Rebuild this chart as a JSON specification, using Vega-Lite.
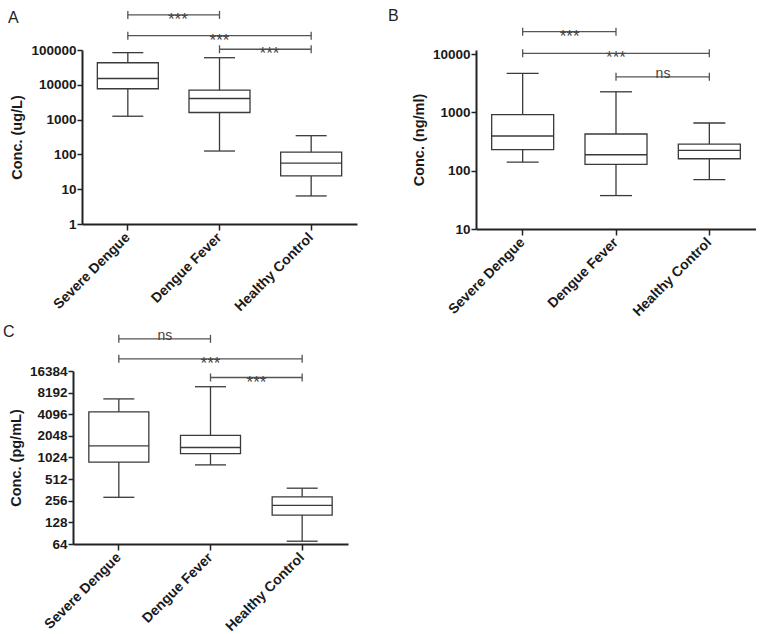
{
  "$schema": "https://vega.github.io/schema/vega-lite/v6.json",
  "background": "white",
  "padding": {"left": 3, "top": 8, "right": 0, "bottom": 0},
  "config": {
    "view": {"stroke": null},
    "font": "Liberation Sans",
    "axis": {"labelFont": "Liberation Sans", "labelFontWeight": "bold", "labelColor": "#1a1a1a", "titleFont": "Liberation Sans", "titleFontWeight": "bold", "titleColor": "#1a1a1a", "domainColor": "#222", "domainWidth": 2, "tickColor": "#222", "tickWidth": 1.5, "grid": false},
    "axisY": {"labelFontSize": 13.5, "titleFontSize": 14.5, "tickSize": 5, "labelPadding": 1, "titlePadding": 6},
    "axisX": {"labelFontSize": 14, "labelAngle": -45, "labelBaseline": "middle", "labelAlign": "right", "tickSize": 6, "labelPadding": 5}
  },
  "datasets": {
    "boxA": [
      {"group": "Severe Dengue", "lower": 1250, "q1": 7700, "median": 15200, "q3": 43000, "upper": 84000},
      {"group": "Dengue Fever", "lower": 125, "q1": 1600, "median": 4050, "q3": 7000, "upper": 60000},
      {"group": "Healthy Control", "lower": 6.4, "q1": 24, "median": 56, "q3": 116, "upper": 345}
    ],
    "boxB": [
      {"group": "Severe Dengue", "lower": 140, "q1": 229, "median": 393, "q3": 916, "upper": 4650},
      {"group": "Dengue Fever", "lower": 37.4, "q1": 128, "median": 188, "q3": 425, "upper": 2250},
      {"group": "Healthy Control", "lower": 70, "q1": 160, "median": 223, "q3": 286, "upper": 657}
    ],
    "boxC": [
      {"group": "Severe Dengue", "lower": 286, "q1": 884, "median": 1485, "q3": 4420, "upper": 6700},
      {"group": "Dengue Fever", "lower": 808, "q1": 1162, "median": 1409, "q3": 2080, "upper": 9900},
      {"group": "Healthy Control", "lower": 70, "q1": 162, "median": 221, "q3": 290, "upper": 383}
    ],
    "brA": [
      {"g1": "Severe Dengue", "g2": "Dengue Fever", "y": 1020000, "label": "***", "span": "one"},
      {"g1": "Severe Dengue", "g2": "Healthy Control", "y": 258000, "label": "***", "span": "two"},
      {"g1": "Dengue Fever", "g2": "Healthy Control", "y": 105000, "label": "***", "span": "one"}
    ],
    "brB": [
      {"g1": "Severe Dengue", "g2": "Dengue Fever", "y": 24200, "label": "***", "span": "one"},
      {"g1": "Severe Dengue", "g2": "Healthy Control", "y": 10280, "label": "***", "span": "two"},
      {"g1": "Dengue Fever", "g2": "Healthy Control", "y": 4065, "label": "ns", "span": "one"}
    ],
    "brC": [
      {"g1": "Severe Dengue", "g2": "Dengue Fever", "y": 45900, "label": "ns", "span": "one"},
      {"g1": "Severe Dengue", "g2": "Healthy Control", "y": 24200, "label": "***", "span": "two"},
      {"g1": "Dengue Fever", "g2": "Healthy Control", "y": 13300, "label": "***", "span": "one"}
    ]
  },
  "spacing": 4,
  "vconcat": [
    {
      "bounds": "flush",
      "spacing": 8,
      "hconcat": [
        {"width": 1, "height": 1, "data": {"values": [{}]}, "mark": {"type": "point", "opacity": 0}, "encoding": {}},
        {
          "spacing": 31,
          "hconcat": [
            {
              "width": 275, "height": 174,
              "title": {"text": "A", "anchor": "start", "frame": "group", "dx": -74, "dy": 22, "offset": 4, "fontSize": 16, "fontWeight": "normal", "font": "Liberation Sans", "color": "#222"},
              "layer": [
                {"data": {"name": "boxA"}, "mark": {"type": "rule", "color": "#3a3a3a", "strokeWidth": 1.3},
                 "encoding": {
                   "x": {"field": "group", "type": "nominal", "title": null, "sort": null, "scale": {"domain": ["Severe Dengue", "Dengue Fever", "Healthy Control"], "paddingInner": 0, "paddingOuter": 0}},
                   "y": {"field": "lower", "type": "quantitative", "scale": {"type": "log", "domain": [1, 100000], "nice": false}, "axis": {"title": "Conc. (ug/L)", "values": [1, 10, 100, 1000, 10000, 100000], "format": "d"}},
                   "y2": {"field": "upper"}}},
                {"data": {"name": "boxA"}, "mark": {"type": "bar", "width": 61, "fill": "white", "stroke": "#3a3a3a", "strokeWidth": 1.3},
                 "encoding": {"x": {"field": "group", "type": "nominal", "title": null}, "y": {"field": "q1", "type": "quantitative"}, "y2": {"field": "q3"}}},
                {"data": {"name": "boxA"}, "mark": {"type": "tick", "size": 61, "thickness": 1.4, "color": "#3a3a3a", "opacity": 1},
                 "encoding": {"x": {"field": "group", "type": "nominal", "title": null}, "y": {"field": "median", "type": "quantitative"}}},
                {"data": {"name": "boxA"}, "mark": {"type": "tick", "size": 31, "thickness": 1.3, "color": "#3a3a3a", "opacity": 1},
                 "encoding": {"x": {"field": "group", "type": "nominal", "title": null}, "y": {"field": "lower", "type": "quantitative"}}},
                {"data": {"name": "boxA"}, "mark": {"type": "tick", "size": 31, "thickness": 1.3, "color": "#3a3a3a", "opacity": 1},
                 "encoding": {"x": {"field": "group", "type": "nominal", "title": null}, "y": {"field": "upper", "type": "quantitative"}}},
                {"data": {"name": "brA"}, "mark": {"type": "rule", "color": "#555", "strokeWidth": 1.3},
                 "encoding": {"x": {"field": "g1", "type": "nominal", "title": null}, "x2": {"field": "g2"}, "y": {"field": "y", "type": "quantitative"}}},
                {"data": {"name": "brA"}, "mark": {"type": "point", "shape": "M0,-1L0,1", "size": 64, "filled": false, "color": "#555", "strokeWidth": 1.3, "opacity": 1},
                 "encoding": {"x": {"field": "g1", "type": "nominal", "title": null}, "y": {"field": "y", "type": "quantitative"}}},
                {"data": {"name": "brA"}, "mark": {"type": "point", "shape": "M0,-1L0,1", "size": 64, "filled": false, "color": "#555", "strokeWidth": 1.3, "opacity": 1},
                 "encoding": {"x": {"field": "g2", "type": "nominal", "title": null}, "y": {"field": "y", "type": "quantitative"}}},
                {"data": {"name": "brA"}, "transform": [{"filter": "datum.span === 'one' && datum.label === '***'"}], "mark": {"type": "text", "dx": 50, "dy": 5, "fontSize": 17, "color": "#444"},
                 "encoding": {"x": {"field": "g1", "type": "nominal", "title": null}, "y": {"field": "y", "type": "quantitative"}, "text": {"field": "label"}}},
                {"data": {"name": "brA"}, "transform": [{"filter": "datum.span === 'two'"}], "mark": {"type": "text", "dy": 5, "fontSize": 17, "color": "#444"},
                 "encoding": {"x": {"datum": "Dengue Fever", "type": "nominal", "title": null}, "y": {"field": "y", "type": "quantitative"}, "text": {"field": "label"}}}
              ]
            },
            {
              "width": 280, "height": 179,
              "title": {"text": "B", "anchor": "start", "frame": "group", "dx": -88, "dy": 3, "offset": 4, "fontSize": 16, "fontWeight": "normal", "font": "Liberation Sans", "color": "#222"},
              "layer": [
                {"data": {"name": "boxB"}, "mark": {"type": "rule", "color": "#3a3a3a", "strokeWidth": 1.3},
                 "encoding": {
                   "x": {"field": "group", "type": "nominal", "title": null, "sort": null, "scale": {"domain": ["Severe Dengue", "Dengue Fever", "Healthy Control"], "paddingInner": 0, "paddingOuter": 0}},
                   "y": {"field": "lower", "type": "quantitative", "scale": {"type": "log", "domain": [10, 11720], "nice": false}, "axis": {"title": "Conc. (ng/ml)", "values": [10, 100, 1000, 10000], "format": "d"}},
                   "y2": {"field": "upper"}}},
                {"data": {"name": "boxB"}, "mark": {"type": "bar", "width": 62, "fill": "white", "stroke": "#3a3a3a", "strokeWidth": 1.3},
                 "encoding": {"x": {"field": "group", "type": "nominal", "title": null}, "y": {"field": "q1", "type": "quantitative"}, "y2": {"field": "q3"}}},
                {"data": {"name": "boxB"}, "mark": {"type": "tick", "size": 62, "thickness": 1.4, "color": "#3a3a3a", "opacity": 1},
                 "encoding": {"x": {"field": "group", "type": "nominal", "title": null}, "y": {"field": "median", "type": "quantitative"}}},
                {"data": {"name": "boxB"}, "mark": {"type": "tick", "size": 32, "thickness": 1.3, "color": "#3a3a3a", "opacity": 1},
                 "encoding": {"x": {"field": "group", "type": "nominal", "title": null}, "y": {"field": "lower", "type": "quantitative"}}},
                {"data": {"name": "boxB"}, "mark": {"type": "tick", "size": 32, "thickness": 1.3, "color": "#3a3a3a", "opacity": 1},
                 "encoding": {"x": {"field": "group", "type": "nominal", "title": null}, "y": {"field": "upper", "type": "quantitative"}}},
                {"data": {"name": "brB"}, "mark": {"type": "rule", "color": "#555", "strokeWidth": 1.3},
                 "encoding": {"x": {"field": "g1", "type": "nominal", "title": null}, "x2": {"field": "g2"}, "y": {"field": "y", "type": "quantitative"}}},
                {"data": {"name": "brB"}, "mark": {"type": "point", "shape": "M0,-1L0,1", "size": 64, "filled": false, "color": "#555", "strokeWidth": 1.3, "opacity": 1},
                 "encoding": {"x": {"field": "g1", "type": "nominal", "title": null}, "y": {"field": "y", "type": "quantitative"}}},
                {"data": {"name": "brB"}, "mark": {"type": "point", "shape": "M0,-1L0,1", "size": 64, "filled": false, "color": "#555", "strokeWidth": 1.3, "opacity": 1},
                 "encoding": {"x": {"field": "g2", "type": "nominal", "title": null}, "y": {"field": "y", "type": "quantitative"}}},
                {"data": {"name": "brB"}, "transform": [{"filter": "datum.span === 'one' && datum.label === '***'"}], "mark": {"type": "text", "dx": 47, "dy": 5, "fontSize": 17, "color": "#444"},
                 "encoding": {"x": {"field": "g1", "type": "nominal", "title": null}, "y": {"field": "y", "type": "quantitative"}, "text": {"field": "label"}}},
                {"data": {"name": "brB"}, "transform": [{"filter": "datum.span === 'one' && datum.label === 'ns'"}], "mark": {"type": "text", "dx": 47, "dy": -3, "fontSize": 14, "color": "#444"},
                 "encoding": {"x": {"field": "g1", "type": "nominal", "title": null}, "y": {"field": "y", "type": "quantitative"}, "text": {"field": "label"}}},
                {"data": {"name": "brB"}, "transform": [{"filter": "datum.span === 'two'"}], "mark": {"type": "text", "dy": 5, "fontSize": 17, "color": "#444"},
                 "encoding": {"x": {"datum": "Dengue Fever", "type": "nominal", "title": null}, "y": {"field": "y", "type": "quantitative"}, "text": {"field": "label"}}}
              ]
            }
          ]
        }
      ]
    },
    {
      "width": 275, "height": 173,
      "title": {"text": "C", "anchor": "start", "frame": "group", "dx": -70, "dy": 15, "offset": 4, "fontSize": 16, "fontWeight": "normal", "font": "Liberation Sans", "color": "#222"},
      "layer": [
        {"data": {"name": "boxC"}, "mark": {"type": "rule", "color": "#3a3a3a", "strokeWidth": 1.3},
         "encoding": {
           "x": {"field": "group", "type": "nominal", "title": null, "sort": null, "scale": {"domain": ["Severe Dengue", "Dengue Fever", "Healthy Control"], "paddingInner": 0, "paddingOuter": 0}},
           "y": {"field": "lower", "type": "quantitative", "scale": {"type": "log", "base": 2, "domain": [64, 16384], "nice": false}, "axis": {"title": "Conc. (pg/mL)", "values": [64, 128, 256, 512, 1024, 2048, 4096, 8192, 16384], "format": "d"}},
           "y2": {"field": "upper"}}},
        {"data": {"name": "boxC"}, "mark": {"type": "bar", "width": 60, "fill": "white", "stroke": "#3a3a3a", "strokeWidth": 1.3},
         "encoding": {"x": {"field": "group", "type": "nominal", "title": null}, "y": {"field": "q1", "type": "quantitative"}, "y2": {"field": "q3"}}},
        {"data": {"name": "boxC"}, "mark": {"type": "tick", "size": 60, "thickness": 1.4, "color": "#3a3a3a", "opacity": 1},
         "encoding": {"x": {"field": "group", "type": "nominal", "title": null}, "y": {"field": "median", "type": "quantitative"}}},
        {"data": {"name": "boxC"}, "mark": {"type": "tick", "size": 31, "thickness": 1.3, "color": "#3a3a3a", "opacity": 1},
         "encoding": {"x": {"field": "group", "type": "nominal", "title": null}, "y": {"field": "lower", "type": "quantitative"}}},
        {"data": {"name": "boxC"}, "mark": {"type": "tick", "size": 31, "thickness": 1.3, "color": "#3a3a3a", "opacity": 1},
         "encoding": {"x": {"field": "group", "type": "nominal", "title": null}, "y": {"field": "upper", "type": "quantitative"}}},
        {"data": {"name": "brC"}, "mark": {"type": "rule", "color": "#555", "strokeWidth": 1.3},
         "encoding": {"x": {"field": "g1", "type": "nominal", "title": null}, "x2": {"field": "g2"}, "y": {"field": "y", "type": "quantitative"}}},
        {"data": {"name": "brC"}, "mark": {"type": "point", "shape": "M0,-1L0,1", "size": 64, "filled": false, "color": "#555", "strokeWidth": 1.3, "opacity": 1},
         "encoding": {"x": {"field": "g1", "type": "nominal", "title": null}, "y": {"field": "y", "type": "quantitative"}}},
        {"data": {"name": "brC"}, "mark": {"type": "point", "shape": "M0,-1L0,1", "size": 64, "filled": false, "color": "#555", "strokeWidth": 1.3, "opacity": 1},
         "encoding": {"x": {"field": "g2", "type": "nominal", "title": null}, "y": {"field": "y", "type": "quantitative"}}},
        {"data": {"name": "brC"}, "transform": [{"filter": "datum.span === 'one' && datum.label === '***'"}], "mark": {"type": "text", "dx": 46, "dy": 5, "fontSize": 17, "color": "#444"},
         "encoding": {"x": {"field": "g1", "type": "nominal", "title": null}, "y": {"field": "y", "type": "quantitative"}, "text": {"field": "label"}}},
        {"data": {"name": "brC"}, "transform": [{"filter": "datum.span === 'one' && datum.label === 'ns'"}], "mark": {"type": "text", "dx": 46, "dy": -3, "fontSize": 14, "color": "#444"},
         "encoding": {"x": {"field": "g1", "type": "nominal", "title": null}, "y": {"field": "y", "type": "quantitative"}, "text": {"field": "label"}}},
        {"data": {"name": "brC"}, "transform": [{"filter": "datum.span === 'two'"}], "mark": {"type": "text", "dy": 5, "fontSize": 17, "color": "#444"},
         "encoding": {"x": {"datum": "Dengue Fever", "type": "nominal", "title": null}, "y": {"field": "y", "type": "quantitative"}, "text": {"field": "label"}}}
      ]
    }
  ]
}
